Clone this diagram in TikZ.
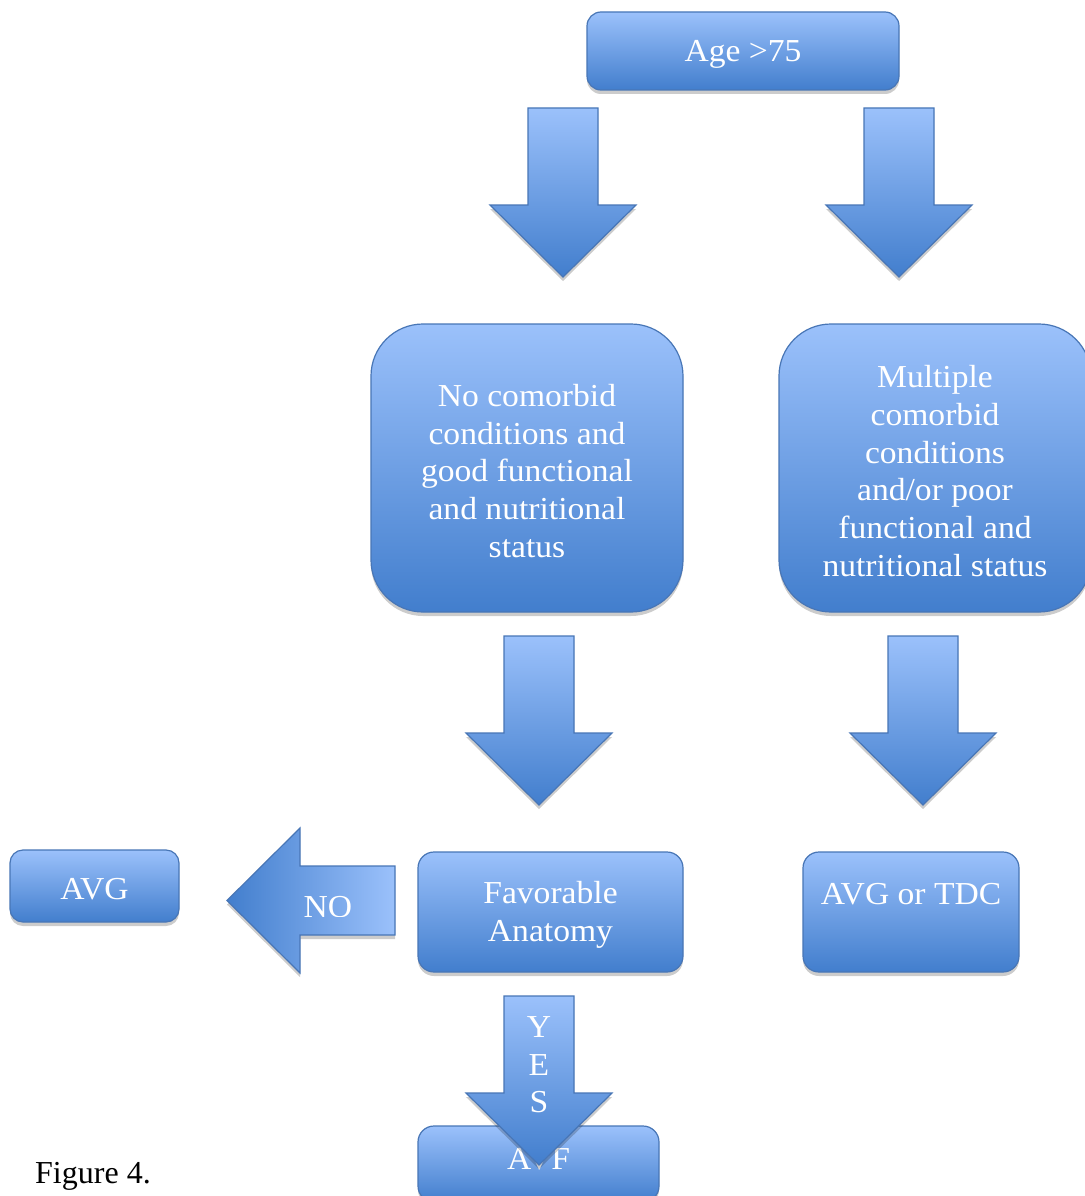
\documentclass[tikz,border=0pt]{standalone}
\usepackage{fontspec}
\setmainfont{Liberation Serif}[FakeStretch=1.05]
\newfontfamily\capfont{Liberation Serif}
\usetikzlibrary{shadows}
\definecolor{lightb}{RGB}{155,193,251}
\definecolor{darkb}{RGB}{66,126,205}
\definecolor{edgeb}{RGB}{72,118,182}
\tikzset{
  x=1pt, y=-1pt,
  sh/.style={drop shadow={shadow xshift=0pt, shadow yshift=-4pt, opacity=0.2, fill=black}},
  boxst/.style={draw=edgeb, line width=1.2pt, top color=lightb, bottom color=darkb,
     inner sep=0pt, sh},
  txt/.style={label={[lbl, align=center, yshift=-3pt]center:{#1}}},
  arrst/.style={draw=edgeb, line width=1.2pt, top color=lightb, bottom color=darkb, sh},
  harrst/.style={draw=edgeb, line width=1.2pt, left color=darkb, right color=lightb, sh},
  lbl/.style={text=white, inner sep=0pt, font=\fontsize{32}{37.7}\selectfont},
}
% down arrow: centre x, top y
\newcommand\dnarr[2]{%
  \path[arrst] (#1-35,#2) -- (#1+35,#2) -- (#1+35,#2+97) -- (#1+73,#2+97)
    -- (#1,#2+169) -- (#1-73,#2+97) -- (#1-35,#2+97) -- cycle;}
\begin{document}
\begin{tikzpicture}
\useasboundingbox (0,0) rectangle (1084,1196);
\fill[white] (0,0) rectangle (1084,1196);

% boxes
\node[boxst, rounded corners=14pt, minimum width=312pt, minimum height=78pt,
  txt={Age >75}] (age) at (743,51) {};

\dnarr{563}{108}
\dnarr{899}{108}

\node[boxst, rounded corners=52pt, minimum width=312pt, minimum height=288pt,
  txt={No comorbid\\conditions and\\good functional\\and nutritional\\status}] (good) at (527,468) {};
\node[boxst, rounded corners=52pt, minimum width=312pt, minimum height=288pt,
  txt={Multiple\\comorbid\\conditions\\and/or poor\\functional and\\nutritional status}] (poor) at (935,468) {};

\dnarr{539}{636}
\dnarr{923}{636}

\node[boxst, rounded corners=13pt, minimum width=169pt, minimum height=72pt,
  txt={AVG}] (avg) at (94.5,886) {};
\node[boxst, rounded corners=16pt, minimum width=265pt, minimum height=120pt,
  txt={Favorable\\Anatomy}] (fav) at (550.5,912) {};
\node[boxst, rounded corners=16pt, minimum width=216pt, minimum height=120pt] (tdc) at (911,912) {};
\node[lbl] (tdct) at (911,894) {AVG or TDC};

% NO arrow (pointing left)
\path[harrst] (395,866) -- (395,935) -- (300,935) -- (300,973) -- (227,900.5)
  -- (300,828) -- (300,866) -- cycle;
\begin{scope}
  \clip (300,866) rectangle (395,916);
  \node[lbl] (no) at (328,907) {NO};
\end{scope}

% AVF box and YES arrow
\node[boxst, rounded corners=16pt, minimum width=241pt, minimum height=76pt] (avf) at (538.5,1164) {};
\node[lbl] (avft) at (538.5,1159) {AVF};
\dnarr{539}{996}
\node[lbl] (y1) at (539,1027) {Y};
\node[lbl] (y2) at (539,1065) {E};
\node[lbl] (y3) at (539,1102) {S};

\node[anchor=base west, inner sep=0pt, font=\capfont\fontsize{32}{38}\selectfont] (cap) at (35,1183) {Figure 4.};
\end{tikzpicture}
\end{document}
